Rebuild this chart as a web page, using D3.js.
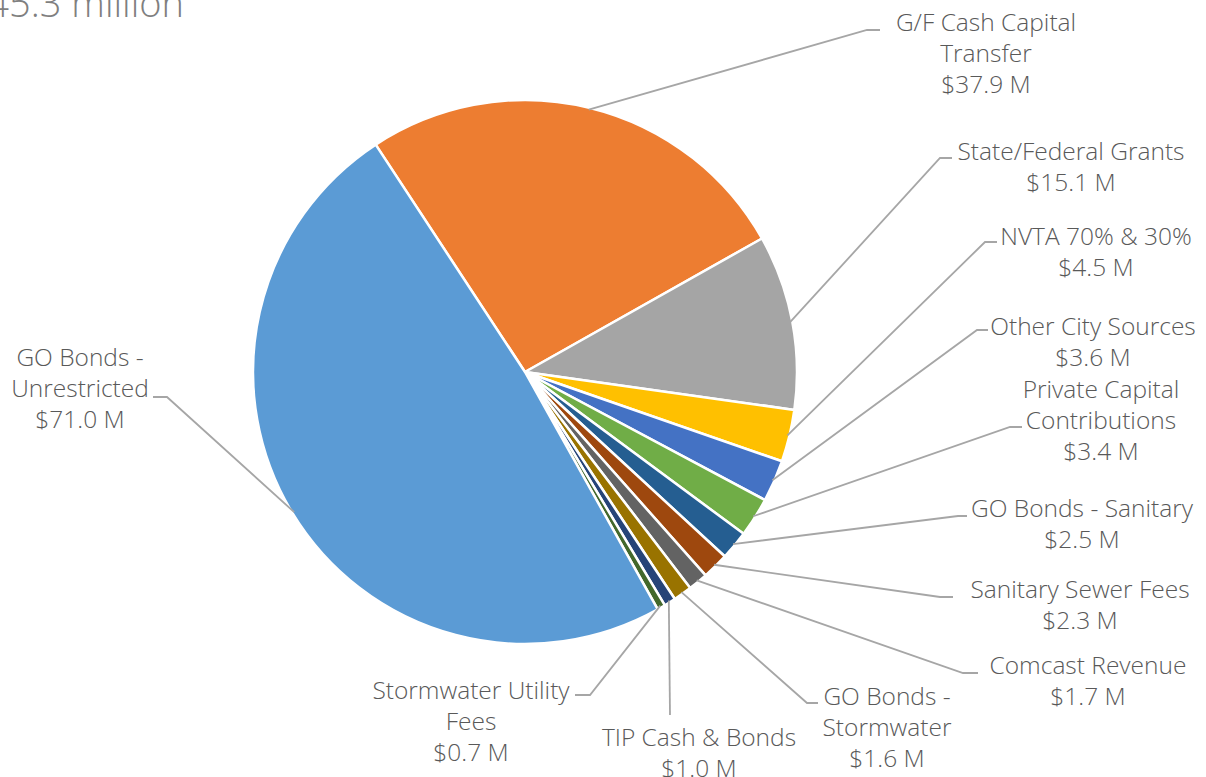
<!DOCTYPE html>
<html>
<head>
<meta charset="utf-8">
<script src="https://cdn.jsdelivr.net/npm/d3@7/dist/d3.min.js"></script>
<style>
  html, body { margin: 0; padding: 0; background: #fff; }
  svg { display: block; }
  text { font-family: "Open Sans", Lato, sans-serif; font-weight: 300; }
</style>
</head>
<body>
<svg id="chart" width="1206" height="777"></svg>
<script>
// ---- data ----
const categories = [
  "G/F Cash Capital Transfer",
  "State/Federal Grants",
  "NVTA 70% & 30%",
  "Other City Sources",
  "Private Capital Contributions",
  "GO Bonds - Sanitary",
  "Sanitary Sewer Fees",
  "Comcast Revenue",
  "GO Bonds - Stormwater",
  "TIP Cash & Bonds",
  "Stormwater Utility Fees",
  "GO Bonds - Unrestricted"
];
const values = [37.9, 15.1, 4.5, 3.6, 3.4, 2.5, 2.3, 1.7, 1.6, 1.0, 0.7, 71.0];
const labelLines = [
  ["G/F Cash Capital", "Transfer"],
  ["State/Federal Grants"],
  ["NVTA 70% & 30%"],
  ["Other City Sources"],
  ["Private Capital", "Contributions"],
  ["GO Bonds - Sanitary"],
  ["Sanitary Sewer Fees"],
  ["Comcast Revenue"],
  ["GO Bonds -", "Stormwater"],
  ["TIP Cash & Bonds"],
  ["Stormwater Utility", "Fees"],
  ["GO Bonds -", "Unrestricted"]
];
const titleText = "$145.3 million";

// ---- styling / layout ----
const colors = ["#ED7D31", "#A5A5A5", "#FFC000", "#4472C4", "#70AD47", "#255E91",
                "#9E480E", "#636363", "#997300", "#264478", "#43682B", "#5B9BD5"];
// label layout: elbow point, tail end, text centre x, first baseline
const labelLayout = [
  {ex: 867, ey: 30,  tx: 880, cx: 986,  by: 31},
  {ex: 940, ey: 158, tx: 952, cx: 1071, by: 160},
  {ex: 985, ey: 242, tx: 997, cx: 1096, by: 245},
  {ex: 977, ey: 330, tx: 988, cx: 1093, by: 335},
  {ex: 1010, ey: 427, tx: 1022, cx: 1101, by: 398},
  {ex: 958, ey: 516, tx: 967, cx: 1082, by: 517},
  {ex: 940, ey: 597, tx: 953, cx: 1080, by: 598},
  {ex: 963, ey: 673, tx: 978, cx: 1088, by: 674},
  {ex: 807, ey: 703, tx: 818, cx: 887,  by: 705},
  {ex: 670, ey: 715, tx: 670, cx: 699,  by: 746},
  {ex: 590, ey: 695, tx: 575, cx: 471,  by: 699},
  {ex: 167, ey: 397, tx: 153, cx: 80,   by: 366}
];

const cx = 525, cy = 372, R = 272;
const lineH = 31;
const svg = d3.select("#chart");

const deg = Math.PI / 180;
const pie = d3.pie().value(d => d).sort(null)
  .startAngle(-33.3 * deg).endAngle(-33.3 * deg + 2 * Math.PI);
const arcs = pie(values);
const arc = d3.arc().innerRadius(0).outerRadius(R);

const g = svg.append("g").attr("transform", `translate(${cx},${cy})`);
g.selectAll("path.slice").data(arcs).join("path")
  .attr("class", "slice")
  .attr("d", arc)
  .attr("fill", (d, i) => colors[i])
  .attr("stroke", "#fff")
  .attr("stroke-width", 2.5)
  .attr("stroke-linejoin", "round");

// leader lines
const edgeArc = d3.arc().innerRadius(R - 2).outerRadius(R - 2);
svg.append("g").selectAll("polyline").data(arcs).join("polyline")
  .attr("points", (d, i) => {
    const [x, y] = edgeArc.centroid(d);
    const L = labelLayout[i];
    return [[cx + x, cy + y], [L.ex, L.ey], [L.tx, L.ey]].map(p => p.join(",")).join(" ");
  })
  .attr("fill", "none")
  .attr("stroke", "#A6A6A6")
  .attr("stroke-width", 1.8);

// labels
const lg = svg.append("g");
arcs.forEach((d, i) => {
  const L = labelLayout[i];
  const lines = labelLines[i].concat(["$" + values[i].toFixed(1) + " M"]);
  const t = lg.append("text")
    .attr("text-anchor", "middle")
    .attr("fill", "#595959")
    .attr("font-size", 24.5);
  lines.forEach((s, k) => {
    t.append("tspan").attr("x", L.cx).attr("y", L.by + k * lineH).text(s);
  });
});

// cut-off title
svg.append("text")
  .attr("x", 184).attr("y", 17)
  .attr("text-anchor", "end")
  .attr("fill", "#7F7F7F")
  .attr("font-size", 38)
  .text(titleText);
</script>
</body>
</html>
